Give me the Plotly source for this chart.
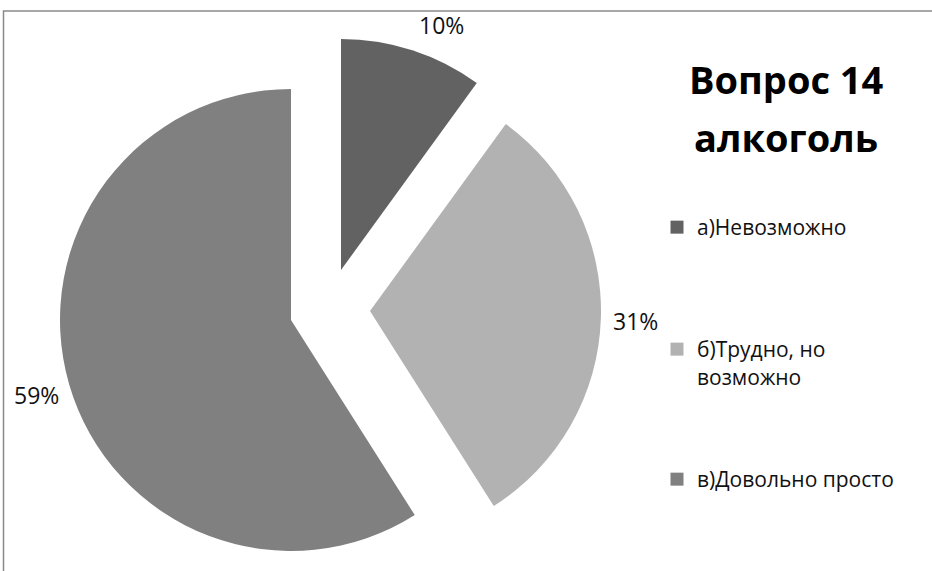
import plotly.graph_objects as go

# ---- data ----
categories = ["а)Невозможно", "б)Трудно, но<br>возможно", "в)Довольно просто"]
values = [10, 31, 59]
colors = ["#626262", "#b2b2b2", "#808080"]
title_lines = ["Вопрос 14", "алкоголь"]

# ---- layout helpers (pixel geometry) ----
W, H = 932, 571
R = 231
centers = [(341, 270), (370, 311), (291, 320)]   # slice apex positions (px)
label_pos = [(441, 24), (635, 320), (36, 394)]   # percent label centres (px)
legend_tops = [207, 329, 459]                     # legend item tops (px)

FONT = "Open Sans"
fig = go.Figure()

for i, (cx, cy) in enumerate(centers):
    cols = ["rgba(0,0,0,0)"] * len(values)
    cols[i] = colors[i]
    fig.add_trace(go.Pie(
        labels=categories, values=values, sort=False, direction="clockwise",
        rotation=0, marker=dict(colors=cols, line=dict(width=0)),
        textinfo="none", hoverinfo="skip", showlegend=False,
        domain=dict(x=[(cx - R) / W, (cx + R) / W],
                    y=[1 - (cy + R) / H, 1 - (cy - R) / H]),
    ))

total = sum(values)
for v, (lx, ly) in zip(values, label_pos):
    fig.add_annotation(text=f"{round(v / total * 100)}%", x=lx / W, y=1 - (ly + 1) / H,
                       xref="paper", yref="paper", showarrow=False,
                       xanchor="center", yanchor="middle",
                       font=dict(family=FONT, size=23, color="#111"))

legend_names = ["legend", "legend2", "legend3"]
for i, cat in enumerate(categories):
    fig.add_trace(go.Scatter(
        x=[None], y=[None], mode="markers", name=cat,
        marker=dict(symbol="square", size=13, color=colors[i]),
        legend=legend_names[i], showlegend=True,
    ))

for txt, yc in zip(title_lines, [79, 137]):
    fig.add_annotation(text=f"<b>{txt}</b>", x=786 / W, y=1 - yc / H,
                       xref="paper", yref="paper", showarrow=False,
                       xanchor="center", yanchor="middle",
                       font=dict(family=FONT, size=38, color="#000"))

leg_common = dict(xanchor="left", yanchor="top", valign="top",
                  font=dict(family=FONT, size=21, color="#111"),
                  bgcolor="rgba(0,0,0,0)", borderwidth=0)
legends = {}
for name, top in zip(legend_names, legend_tops):
    legends[name] = dict(x=657 / W, y=1 - top / H, **leg_common)

fig.update_layout(
    width=W, height=H,
    margin=dict(l=0, r=0, t=0, b=0),
    paper_bgcolor="white", plot_bgcolor="white",
    xaxis=dict(visible=False), yaxis=dict(visible=False),
    shapes=[dict(type="rect", xref="paper", yref="paper",
                 x0=3.5 / W, x1=1.05, y0=-0.05, y1=1 - 11 / H,
                 line=dict(color="#8a8a8a", width=1.5), layer="above")],
    **legends,
)

fig.write_html("out.html", config={"displayModeBar": False},
               post_script="document.body.style.margin='0';"
                           "document.body.style.overflow='hidden';")
